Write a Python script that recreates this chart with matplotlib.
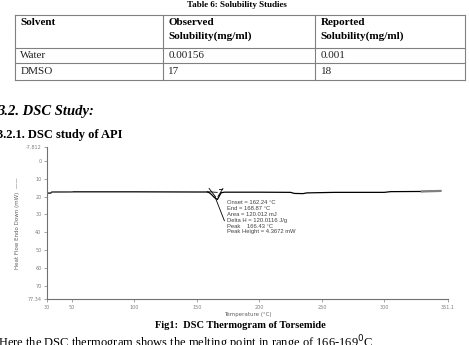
import matplotlib.pyplot as plt
import matplotlib.lines as mlines

W, H = 469, 345

# table data
col_headers = ["Solvent", "Observed\nSolubility(mg/ml)", "Reported\nSolubility(mg/ml)"]
solvents = ["Water", "DMSO"]
observed = ["0.00156", "17"]
reported = ["0.001", "18"]

# DSC curve (temperature in C, heat flow in mW)
temp = [30, 33, 34, 50, 100, 150, 158, 160, 162, 164, 166.4, 168, 169.5, 172,
        200, 225, 228, 235, 238, 260, 300, 305, 330, 345]
heat = [18.0, 18.0, 17.4, 17.3, 17.3, 17.4, 17.4, 17.8, 19.0, 20.5, 21.6, 19.5, 17.8, 17.5,
        17.5, 17.6, 18.2, 18.3, 17.9, 17.6, 17.6, 17.2, 17.1, 16.8]
onset, end_t, peak_t, peak_h = 162.24, 168.87, 166.43, 4.3672
results = ["Onset = 162.24 \u00b0C", "End = 168.87 \u00b0C", "Area = 120.012 mJ",
           "Delta H = 120.0116 J/g", "Peak    166.43 \u00b0C", "Peak Height = 4.3672 mW"]
xticks = [30, 50, 100, 150, 200, 250, 300, 351]
xtick_labels = ["30", "50", "100", "150", "200", "250", "300", "351.1"]
yticks = [-7.812, 0, 10, 20, 30, 40, 50, 60, 70, 77.34]
ytick_labels = ["-7.812", "0", "10", "20", "30", "40", "50", "60", "70", "77.34"]

fig = plt.figure(figsize=(W / 100, H / 100), dpi=100)
fig.patch.set_facecolor("white")


def fx(x):
    return x / W


def fy(y):
    return 1 - y / H


def hline(x0, x1, y, c="#808080", lw=0.8):
    fig.add_artist(mlines.Line2D([fx(x0), fx(x1)], [fy(y), fy(y)], color=c, lw=lw))


def vline(x, y0, y1, c="#808080", lw=0.8):
    fig.add_artist(mlines.Line2D([fx(x), fx(x)], [fy(y0), fy(y1)], color=c, lw=lw))


serif = "Liberation Serif"

# ---- table
fig.text(fx(237), fy(5), "Table 6: Solubility Studies", family=serif, weight="bold",
         fontsize=6.5, ha="center", va="center")
cols_x = [14.7, 162.7, 315, 465]
rows_y = [15.3, 47.7, 63.3, 80]
for x in cols_x:
    vline(x, rows_y[0], rows_y[-1])
for y in rows_y:
    hline(cols_x[0], cols_x[-1], y)
for i, h in enumerate(col_headers):
    fig.text(fx(cols_x[i] + 5.5), fy(18), h, family=serif, weight="bold", fontsize=8,
             ha="left", va="top", linespacing=1.55)
for r, row in enumerate(zip(solvents, observed, reported)):
    yc = (rows_y[r + 1] + rows_y[r + 2]) / 2
    for i, v in enumerate(row):
        fig.text(fx(cols_x[i] + 5.5), fy(yc), v, family=serif, fontsize=8,
                 ha="left", va="center", color="#222222")

# ---- headings (left edge is cropped in the scan)
fig.text(fx(-3), fy(112), "3.2. DSC Study:", family=serif, weight="bold", style="italic",
         fontsize=10.5, ha="left", va="center")
fig.text(fx(-3), fy(135), "3.2.1. DSC study of API", family=serif, weight="bold",
         fontsize=9, ha="left", va="center")

# ---- thermogram
ax = fig.add_axes([fx(47), fy(299), fx(448 - 47), (299 - 147) / H])
ax.plot(temp, heat, color="black", lw=0.9)
# lighter, thicker segments at both ends of the trace
ax.plot(temp[2:4], heat[2:4], color="#707070", lw=1.0)
ax.plot(temp[-2:], heat[-2:], color="#808080", lw=1.6)
ax.set_xlim(30, 351)
ax.set_ylim(77.34, -7.812)
for s in ["top", "right"]:
    ax.spines[s].set_visible(False)
for s in ["left", "bottom"]:
    ax.spines[s].set_color("#707070")
    ax.spines[s].set_linewidth(0.8)
ax.set_xticks(xticks)
ax.set_xticklabels(xtick_labels)
ax.set_yticks(yticks)
ax.set_yticklabels(ytick_labels)
ax.tick_params(labelsize=3.5, colors="#808080", length=2, width=0.5, pad=2)
ax.set_xlabel("Temperature (\u00b0C)", fontsize=4, color="#606060", labelpad=2)
ax.set_ylabel("Heat Flow Endo Down (mW)  \u2014\u2014", fontsize=4, color="#606060", labelpad=4)

# onset / end tangent construction
base = heat[5]
ax.plot([onset - 4, onset + 4], [base - 0.2, base + 0.2], color="black", lw=0.6)
ax.plot([onset - 2.5, onset + 2.5], [base - 2.0, base + 2.5], color="black", lw=0.6)
ax.plot([end_t - 2, end_t + 2], [base + 2.5, base - 2.0], color="black", lw=0.6)
ax.plot([end_t - 1, end_t + 1], [base - 1.5, base - 1.5], color="black", lw=0.6)
# pointer from peak to results
ax.plot([peak_t - 2, 172], [base + peak_h * 0.6, 33.5], color="black", lw=0.6)
for k, t in enumerate(results):
    ax.text(174, 23.3 + k * 3.3, t, fontsize=4.2, color="#404040", ha="left", va="center",
            family="Liberation Sans")

fig.text(fx(240), fy(326), "Fig1:  DSC Thermogram of Torsemide", family=serif,
         weight="bold", fontsize=7.5, ha="center", va="center")
fig.text(fx(-2), fy(343), "Here the DSC thermogram shows the melting point in range of 166-169$^0$C",
         family=serif, fontsize=9, ha="left", va="center")

fig.savefig("out.png", dpi=100)
